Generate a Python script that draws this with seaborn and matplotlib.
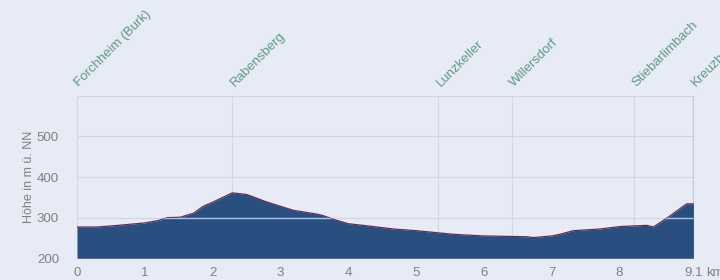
import numpy as np
import pandas as pd
import matplotlib
matplotlib.use("Agg")
import matplotlib.pyplot as plt
import seaborn as sns

# Elevation profile (km, m above sea level)
km = [0.0, 0.3, 0.6, 1.0, 1.2, 1.33, 1.52, 1.72, 1.86, 2.0, 2.15, 2.29, 2.5, 2.6,
      2.79, 3.0, 3.19, 3.53, 3.63, 3.78, 4.0, 4.17, 4.67, 5.0, 5.55, 6.0, 6.63,
      6.73, 7.0, 7.12, 7.32, 7.71, 8.0, 8.40, 8.50, 8.70, 8.85, 8.99, 9.09]
elev = [277, 277, 281, 287, 293, 300, 301, 311, 328, 338, 350, 361, 357, 351,
        339, 328, 318, 309, 305, 296, 285, 282, 272, 268, 259, 255, 253,
        251, 255, 259, 268, 272, 278, 281, 277, 299, 317, 334, 334]

# Places along the route
place_names = ["Forchheim (Burk)", "Rabensberg", "Lunzkeller", "Willersdorf",
               "Stiebarlimbach", "Kreuzberg"]
place_km = [0.0, 2.29, 5.33, 6.41, 8.22, 9.09]

x_ticks = [0, 1, 2, 3, 4, 5, 6, 7, 8, 9.1]
x_tick_labels = ["0", "1", "2", "3", "4", "5", "6", "7", "8", "9.1"]
y_ticks = [200, 300, 400, 500]
y_tick_labels = ["200", "300", "400", "500"]

df = pd.DataFrame({"km": km, "elev": elev})

sns.set_theme(style="white")
plt.rcParams["font.family"] = ["Liberation Sans", "DejaVu Sans"]

bg = "#e6ebf5"
txt = "#808080"
fig = plt.figure(figsize=(7.2, 2.8), dpi=100, facecolor=bg)
ax = fig.add_axes([0.107, 0.0775, 0.857, 0.5805])
ax.set_facecolor(bg)

ymin, ymax = 200, 600
poly = ax.fill_between(df["km"], ymin, df["elev"], color="#294f80", zorder=2,
                       linewidth=0)
sns.lineplot(data=df, x="km", y="elev", ax=ax, color="#6e2a45", linewidth=0.9,
             zorder=3, sort=False)

ax.set_xlim(0, 9.1)
ax.set_ylim(ymin, ymax)

# horizontal grid lines
for yv in [300, 400, 500, 600]:
    ax.axhline(yv, color="#d2d6de", linewidth=0.8, zorder=1)
# the 300 m line shows as a light line over the filled profile
hl = ax.axhline(300, color="#a9c3e3", linewidth=1.0, zorder=4)
hl.set_clip_path(poly.get_paths()[0], ax.transData)

# vertical grid lines at places
for xv in place_km:
    ax.axvline(xv, color="#d2d6de", linewidth=0.8, zorder=1)
ax.axvline(place_km[-1], color="#c4c8d0", linewidth=1.0, zorder=1)

# place labels
for name, xv in zip(place_names, place_km):
    ax.annotate(name, xy=(xv, ymax), xytext=(3, 5), textcoords="offset points",
                rotation=45, rotation_mode="anchor", ha="left", va="bottom",
                color="#5f9a86", fontsize=9.5, annotation_clip=False)

ax.set_xticks(x_ticks)
ax.set_xticklabels(x_tick_labels)
ax.set_yticks(y_ticks)
ax.set_yticklabels(y_tick_labels)
ax.tick_params(axis="x", colors=txt, labelsize=9.5, length=3, width=0.6,
               direction="out", pad=3)
ax.tick_params(axis="y", colors=txt, labelsize=9.5, length=3, width=0.6,
               direction="in", pad=13)
ax.annotate("km", xy=(9.1, 0), xycoords=("data", "axes fraction"),
            xytext=(9, -6), textcoords="offset points", color=txt,
            fontsize=9.5, ha="left", va="top", annotation_clip=False)

ax.set_xlabel("")
ax.set_ylabel("Höhe in m ü. NN", color=txt, fontsize=9)
ax.yaxis.set_label_coords(-0.068, 0.5)

for s in ax.spines.values():
    s.set_visible(False)

fig.savefig("out.png", dpi=100, facecolor=bg)
